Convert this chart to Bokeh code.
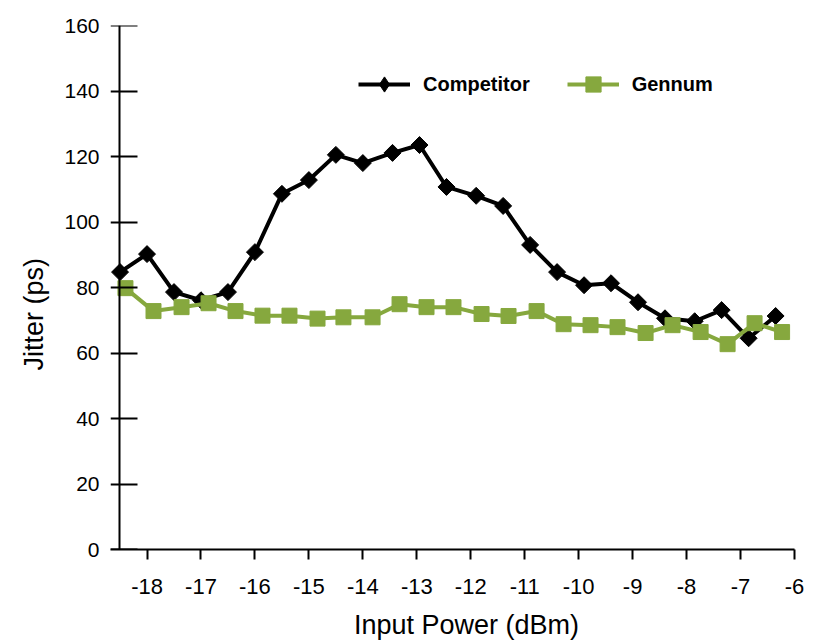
import numpy as np
from bokeh.plotting import figure
from bokeh.models import Range1d, FixedTicker, Legend, LegendItem, LinearAxis, Title
from bokeh.embed import file_html
from bokeh.resources import INLINE

# ---- data ----
competitor_x = [-18.5, -18.0, -17.5, -17.0, -16.5, -16.0, -15.5, -15.0, -14.5, -14.0,
                -13.45, -12.95, -12.45, -11.9, -11.4, -10.9, -10.4, -9.9, -9.4, -8.9,
                -8.4, -7.85, -7.35, -6.85, -6.35]
competitor_y = [84.7, 90.2, 78.6, 76.1, 78.6, 90.8, 108.6, 112.8, 120.5, 118.0,
                121.1, 123.5, 110.7, 108.0, 104.9, 93.0, 84.7, 80.7, 81.3, 75.5,
                70.6, 69.7, 73.1, 64.5, 71.3]
gennum_x = [-18.4, -17.88, -17.36, -16.86, -16.36, -15.86, -15.36, -14.84, -14.36, -13.82,
            -13.32, -12.82, -12.32, -11.8, -11.3, -10.78, -10.28, -9.78, -9.28, -8.76,
            -8.26, -7.74, -7.24, -6.74, -6.23]
gennum_y = [79.8, 72.8, 74.0, 75.2, 72.8, 71.4, 71.4, 70.5, 70.9, 70.9,
            74.9, 74.0, 74.0, 71.9, 71.3, 72.8, 68.8, 68.5, 67.9, 66.1,
            68.5, 66.4, 62.7, 69.1, 66.4]
x_ticks = [-18, -17, -16, -15, -14, -13, -12, -11, -10, -9, -8, -7, -6]
y_ticks = [0, 20, 40, 60, 80, 100, 120, 140, 160]
series_names = ["Competitor", "Gennum"]
x_title = "Input Power (dBm)"
y_title = "Jitter (ps)"
x_axis_span = (-18.677, -6)
y_axis_at = -18.51

BLACK = "#000000"
GREEN = "#86A83E"
FONT = "Liberation Sans"

p = figure(width=822, height=642, output_backend="svg", toolbar_location=None,
           x_range=Range1d(-18.677, -5.481), y_range=Range1d(0, 160),
           min_border_left=110, min_border_right=0, min_border_top=25,
           min_border_bottom=93)
p.outline_line_color = None
p.xgrid.visible = False
p.ygrid.visible = False
p.background_fill_color = "white"
p.border_fill_color = "white"

# x axis
xa = p.xaxis[0]
xa.bounds = x_axis_span
xa.ticker = FixedTicker(ticks=x_ticks)
xa.major_label_overrides = {t: str(t) for t in x_ticks}
xa.axis_line_width = 2
xa.major_tick_line_width = 2
xa.major_tick_out = 10
xa.major_tick_in = 0
xa.minor_tick_line_color = None
xa.major_label_text_font = FONT
xa.major_label_text_font_size = "22px"
xa.major_label_text_color = "black"
xa.major_label_standoff = 19
xa.axis_label = x_title
xa.axis_label_text_font = FONT
xa.axis_label_text_font_size = "27px"
xa.axis_label_text_font_style = "normal"
xa.axis_label_text_color = "black"
xa.axis_label_standoff = 13

# y axis line with crossing ticks, at its data position (no labels)
ya = p.yaxis[0]
ya.fixed_location = y_axis_at
ya.ticker = FixedTicker(ticks=y_ticks)
ya.major_label_overrides = {t: "" for t in y_ticks}
ya.major_label_text_font_size = "0px"
ya.major_label_standoff = 0
ya.axis_line_width = 2
ya.axis_line_color = "black"
ya.major_tick_line_width = 2
ya.major_tick_line_color = "black"
ya.major_tick_out = 9
ya.major_tick_in = 18
ya.minor_tick_line_color = None
ya.minor_tick_out = 0

# y tick labels (line/ticks hidden)
ya2 = LinearAxis(ticker=FixedTicker(ticks=y_ticks),
                 major_label_overrides={t: str(t) for t in y_ticks},
                 axis_line_color=None, major_tick_line_color=None,
                 minor_tick_line_color=None, major_tick_out=0, major_tick_in=0,
                 minor_tick_out=0,
                 major_label_text_font=FONT, major_label_text_font_size="21px",
                 major_label_text_color="black", major_label_standoff=11)
p.add_layout(ya2, "left")

# y axis title
p.add_layout(Title(text=y_title, align="left", offset=179, vertical_align="top",
                   standoff=22, text_font=FONT, text_font_size="27px",
                   text_font_style="normal", text_color="black"), "left")

# series
c_line = p.line(competitor_x, competitor_y, line_color=BLACK, line_width=4)
# diamond key (used for the legend symbol; hidden under the plot markers)
c_key = p.scatter(competitor_x, competitor_y, marker="diamond", size=10,
                  fill_color=BLACK, line_color=BLACK)
c_mark = p.scatter(competitor_x, competitor_y, marker="square", angle=np.pi / 4,
                   size=12, fill_color=BLACK, line_color=BLACK)
g_line = p.line(gennum_x, gennum_y, line_color=GREEN, line_width=4)
g_mark = p.scatter(gennum_x, gennum_y, marker="square", size=15,
                   fill_color=GREEN, line_color=GREEN)

legend = Legend(items=[LegendItem(label=series_names[0], renderers=[c_line, c_key]),
                       LegendItem(label=series_names[1], renderers=[g_line, g_mark])],
                orientation="horizontal", location=(248, 446),
                padding=0, margin=0, spacing=37,
                glyph_width=52, glyph_height=38, label_standoff=13,
                label_text_font=FONT, label_text_font_size="20px",
                label_text_font_style="bold", label_text_color="black",
                border_line_color=None, background_fill_alpha=0)
p.add_layout(legend, "center")

open("out.html", "w").write(file_html(p, INLINE))
